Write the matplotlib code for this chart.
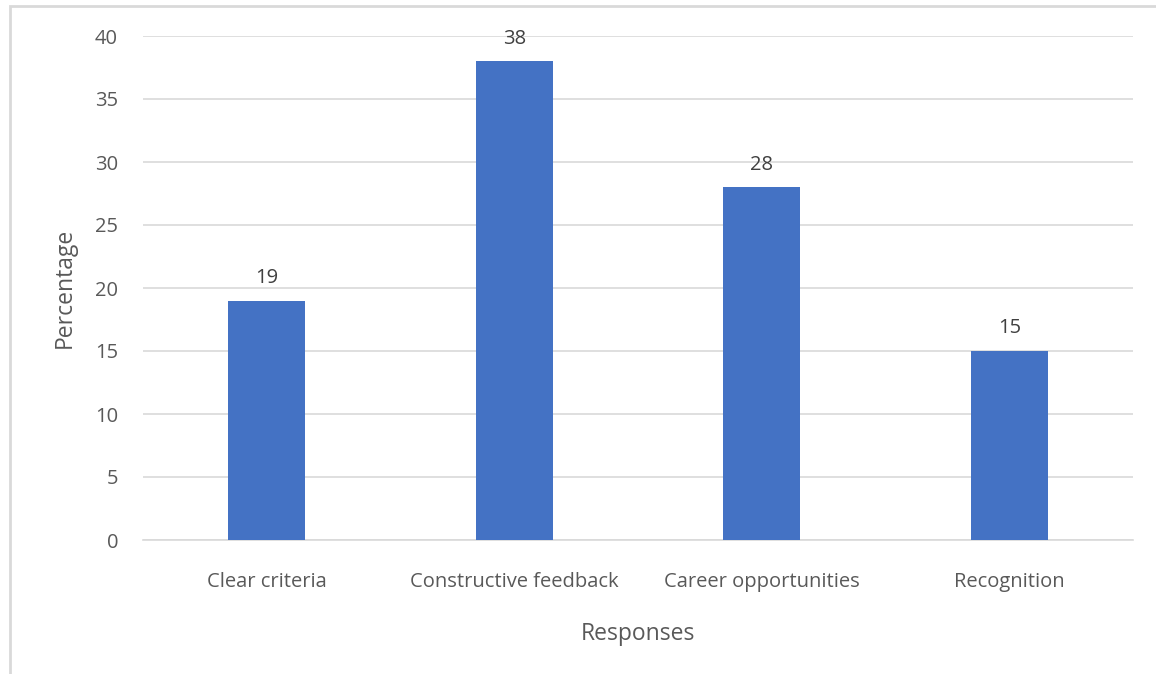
import matplotlib.pyplot as plt
from matplotlib.patches import Rectangle

categories = ['Clear criteria', 'Constructive feedback', 'Career opportunities', 'Recognition']
values = [19, 38, 28, 15]

W, H = 1156, 674
plt.rcParams['font.family'] = ['Open Sans', 'DejaVu Sans']
fig = plt.figure(figsize=(W / 100, H / 100), dpi=100)

# chart frame (runs off the right and bottom edges)
fig.patches.append(Rectangle((9.5 / W, -0.1), 1.2, 1 - 6.5 / H + 0.1,
                             transform=fig.transFigure, fill=False,
                             edgecolor='#d9d9d9', linewidth=2))

ax = fig.add_axes([143 / W, 1 - 540 / H, (1133 - 143) / W, (540 - 36) / H])
x = range(len(categories))
ax.bar(x, values, width=0.31, color='#4472c4', zorder=3)
for xi, v in zip(x, values):
    ax.text(xi, v + 1.0, str(v), ha='center', va='bottom', fontsize=14.5, color='#404040')

ax.set_xlim(-0.5, 3.5)
ax.set_ylim(0, 40)
ax.set_yticks(range(0, 41, 5))
ax.set_xticks(list(x))
ax.set_xticklabels(categories)
ax.grid(axis='y', color='#d9d9d9', linewidth=1.2, zorder=0)
for s in ['top', 'right', 'left']:
    ax.spines[s].set_visible(False)
ax.spines['bottom'].set_color('#d9d9d9')
ax.spines['bottom'].set_linewidth(1.2)
ax.tick_params(length=0, labelsize=14.5, colors='#595959')
ax.tick_params(axis='x', pad=23)
ax.tick_params(axis='y', pad=18)
ax.set_ylabel('Percentage', fontsize=16.5, color='#595959', labelpad=13)
ax.set_xlabel('Responses', fontsize=16.5, color='#595959', labelpad=22)

fig.savefig('out.png', dpi=100)
